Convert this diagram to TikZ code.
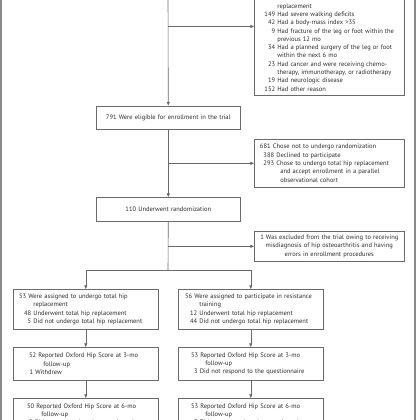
\documentclass[tikz,border=0pt]{standalone}
\usepackage{fontspec}
\setmainfont{PT Sans}
\usetikzlibrary{arrows.meta,calc}
\definecolor{linegray}{HTML}{6A6A6A}
\definecolor{textgray}{HTML}{2A2A2A}
\definecolor{bordergray}{HTML}{8A8A8A}
% one line: offset of the text start, number (right-aligned before it), text
\newcommand{\Lq}[3]{\mbox{\hspace*{#1pt}\llap{#2\hspace{2.2pt}}#3}\\}
\newcommand{\Lc}[2]{\mbox{\hspace*{#1pt}#2}\\}
\newcommand{\Lz}[3]{\mbox{\hspace*{#1pt}\llap{#2\hspace{2.2pt}}#3}}
\begin{document}
\begin{tikzpicture}[x=1pt,y=-1pt,
  box/.style={draw=linegray, line width=0.6pt, inner xsep=0pt, inner ysep=0pt,
    text=textgray, font=\fontsize{6.5}{8.3}\selectfont},
  lbox/.style={box, text width=#1pt, align=left},
  cbox/.style={box, text width=#1pt, align=center},
  conn/.style={draw=linegray, line width=0.6pt},
  arr/.style={conn, -{Triangle[length=3.6pt,width=3pt]}},
  edge/.style={draw=bordergray, line width=1.3pt}]
\useasboundingbox (0,0) rectangle (420,420);
\clip (0,0) rectangle (420,420);
\draw[edge] (1,-2) -- (1,422);
\draw[edge] (415,-2) -- (415,422);

% top exclusion box (cut by the top edge)
\node[lbox=150, anchor=south west, inner ysep=4.5pt] (ex1) at (254,96) {%
  \Lc{23}{\rule{0pt}{30pt}replacement}
  \Lq{23}{149}{Had severe walking deficits}
  \Lq{23}{42}{Had a body-mass index >35}
  \Lq{23}{9}{Had fracture of the leg or foot within the}
  \Lc{23}{previous 12 mo}
  \Lq{23}{34}{Had a planned surgery of the leg or foot}
  \Lc{23}{within the next 6 mo}
  \Lq{23}{23}{Had cancer and were receiving chemo-}
  \Lc{23}{therapy, immunotherapy, or radiotherapy}
  \Lq{23}{19}{Had neurologic disease}
  \Lz{23}{152}{Had other reason}};

\node[cbox=144, minimum height=23.5pt, anchor=north west] (elig) at (96,105.5)
  {791 Were eligible for enrollment in the trial};

\node[lbox=150, minimum height=48pt, anchor=north west] (ex2) at (254,139) {%
  \Lq{18.5}{681}{Chose not to undergo randomization}
  \Lq{22}{388}{Declined to participate}
  \Lq{22}{293}{Chose to undergo total hip replacement}
  \Lc{26}{and accept enrollment in a parallel}
  \Lc{26}{observational cohort}};

\node[cbox=144, minimum height=23.5pt, anchor=north west] (rand) at (96,197)
  {110 Underwent randomization};

\node[cbox=150, minimum height=30pt, anchor=north west] (ex3) at (254,231)
  {1 Was excluded from the trial owing to receiving\\
   misdiagnosis of hip osteoarthritis and having\\
   errors in enrollment procedures};

\node[lbox=145, minimum height=40pt, anchor=north west] (tha) at (13,289) {%
  \Lq{15}{53}{Were assigned to undergo total hip}
  \Lc{20}{replacement}
  \Lq{20}{48}{Underwent total hip replacement}
  \Lz{20}{5}{Did not undergo total hip replacement}};

\node[lbox=145, minimum height=40pt, anchor=north west] (rt) at (178,289) {%
  \Lq{16}{56}{Were assigned to participate in resistance}
  \Lc{21}{training}
  \Lq{21}{12}{Underwent total hip replacement}
  \Lz{21}{44}{Did not undergo total hip replacement}};

\node[lbox=145, minimum height=33pt, anchor=north west] (tha3) at (13,347) {%
  \Lq{25}{52}{Reported Oxford Hip Score at 3-mo}
  \Lc{30}{follow-up}
  \Lz{22}{1}{Withdrew}};

\node[lbox=145, minimum height=33pt, anchor=north west] (rt3) at (178,347) {%
  \Lq{22}{53}{Reported Oxford Hip Score at 3-mo}
  \Lc{27}{follow-up}
  \Lz{21.5}{3}{Did not respond to the questionnaire}};

\node[lbox=145, minimum height=33pt, anchor=north west] (tha6) at (13,398) {%
  \Lq{23}{50}{Reported Oxford Hip Score at 6-mo}
  \Lc{28}{follow-up}
  \Lz{21.5}{2}{Did not respond to the questionnaire}};

\node[lbox=145, minimum height=33pt, anchor=north west] (rt6) at (178,398) {%
  \Lq{22}{53}{Reported Oxford Hip Score at 6-mo}
  \Lc{27}{follow-up}
  \Lz{21.5}{3}{Did not respond to the questionnaire}};

% connectors
\coordinate (top) at (168,-5);
\coordinate (b1) at (168,26.5);
\coordinate (split) at (168,270);
\draw[arr] (top) -- (elig.north);
\draw[arr] (b1) -- (ex1.west |- b1);
\draw[arr] (elig.south) -- (rand.north);
\draw[arr] (elig.south |- ex2.west) -- (ex2.west);
\draw[conn] (rand.south) -- (split);
\draw[arr] (rand.south |- ex3.west) -- (ex3.west);
\draw[conn] (tha.north |- split) -- (rt.north |- split);
\draw[arr] (tha.north |- split) -- (tha.north);
\draw[arr] (rt.north |- split) -- (rt.north);
\draw[arr] (tha.south) -- (tha3.north);
\draw[arr] (rt.south) -- (rt3.north);
\draw[arr] (tha3.south) -- (tha6.north);
\draw[arr] (rt3.south) -- (rt6.north);
\end{tikzpicture}
\end{document}
